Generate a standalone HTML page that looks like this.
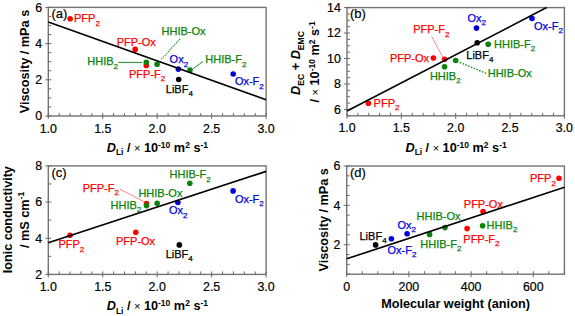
<!DOCTYPE html><html><head><meta charset="utf-8"><style>html,body{margin:0;padding:0;background:#fff;width:575px;height:316px;overflow:hidden}svg{display:block;font-family:"Liberation Sans",sans-serif}.t{font-size:12.4px;fill:#000;stroke:#000;stroke-width:0.2px}.l{font-size:11px;stroke-width:0.25px}.s{font-size:8px}.ti{font-size:12.7px;font-weight:bold;fill:#000}.ts{font-size:9px;font-weight:bold}.tp{font-size:8.5px;font-weight:bold}</style></head><body><svg width="575" height="316" viewBox="0 0 575 316">
<rect x="48.3" y="7.4" width="217.8" height="108.6" fill="none" stroke="#747474" stroke-width="1.4"/>
<path d="M48.3 119V113 M59.19 116V113 M70.08 116V113 M80.97 116V113 M91.86 116V113 M102.75 119V113 M113.64 116V113 M124.53 116V113 M135.42 116V113 M146.31 116V113 M157.2 119V113 M168.09 116V113 M178.98 116V113 M189.87 116V113 M200.76 116V113 M211.65 119V113 M222.54 116V113 M233.43 116V113 M244.32 116V113 M255.21 116V113 M266.1 119V113 M45.3 116H51.3 M48.3 106.95H51.3 M48.3 97.9H51.3 M48.3 88.85H51.3 M45.3 79.8H51.3 M48.3 70.75H51.3 M48.3 61.7H51.3 M48.3 52.65H51.3 M45.3 43.6H51.3 M48.3 34.55H51.3 M48.3 25.5H51.3 M48.3 16.45H51.3 M45.3 7.4H51.3" stroke="#6a6a6a" stroke-width="1" fill="none"/>
<text x="48.3" y="132.6" text-anchor="middle" class="t">1.0</text>
<text x="102.75" y="132.6" text-anchor="middle" class="t">1.5</text>
<text x="157.2" y="132.6" text-anchor="middle" class="t">2.0</text>
<text x="211.65" y="132.6" text-anchor="middle" class="t">2.5</text>
<text x="266.1" y="132.6" text-anchor="middle" class="t">3.0</text>
<text x="42.1" y="120.4" text-anchor="end" class="t">0</text>
<text x="42.1" y="84.2" text-anchor="end" class="t">2</text>
<text x="42.1" y="48" text-anchor="end" class="t">4</text>
<text x="42.1" y="11.8" text-anchor="end" class="t">6</text>
<line x1="118.2" y1="62.4" x2="142" y2="62.4" stroke="#0a820a" stroke-width="0.9"/>
<line x1="161.4" y1="59.2" x2="180.6" y2="38.3" stroke="#0a820a" stroke-width="1.1" stroke-dasharray="1.2,1.2"/>
<line x1="193.3" y1="68.6" x2="203" y2="61.5" stroke="#0a820a" stroke-width="0.9"/>
<text x="51.5" y="18.4" class="t" style="font-size:13px">(a)</text>
<circle cx="70.1" cy="18.7" r="2.8" fill="#ff0000"/>
<text x="74" y="22.3" fill="#ff0000" stroke="#ff0000" class="l">PFP<tspan class="s" dy="3.3">2</tspan></text>
<circle cx="135.2" cy="49.4" r="2.8" fill="#ff0000"/>
<text x="116.7" y="45.6" fill="#ff0000" stroke="#ff0000" class="l">PFP-Ox</text>
<circle cx="146.3" cy="65.4" r="2.8" fill="#ff0000"/>
<text x="129" y="77.8" fill="#ff0000" stroke="#ff0000" class="l">PFP-F<tspan class="s" dy="3.3">2</tspan></text>
<circle cx="146.3" cy="62.3" r="2.8" fill="#0a820a"/>
<text x="87.3" y="65.3" fill="#0a820a" stroke="#0a820a" class="l">HHIB<tspan class="s" dy="3.3">2</tspan></text>
<circle cx="157.1" cy="64.2" r="2.8" fill="#0a820a"/>
<text x="161.5" y="35" fill="#0a820a" stroke="#0a820a" class="l">HHIB-Ox</text>
<circle cx="178.3" cy="69.1" r="2.8" fill="#0000dc"/>
<text x="169.6" y="63.3" fill="#0000dc" stroke="#0000dc" class="l">Ox<tspan class="s" dy="3.3">2</tspan></text>
<circle cx="178.7" cy="79.5" r="2.8" fill="#000000"/>
<text x="165.8" y="92.9" fill="#000000" stroke="#000000" class="l">LiBF<tspan class="s" dy="3.3">4</tspan></text>
<circle cx="190" cy="70.1" r="2.8" fill="#0a820a"/>
<text x="205.3" y="63.3" fill="#0a820a" stroke="#0a820a" class="l">HHIB-F<tspan class="s" dy="3.3">2</tspan></text>
<circle cx="233.2" cy="74" r="2.8" fill="#0000dc"/>
<text x="234.9" y="85.3" fill="#0000dc" stroke="#0000dc" class="l">Ox-F<tspan class="s" dy="3.3">2</tspan></text>
<line x1="48.3" y1="22" x2="266.1" y2="99.7" stroke="#000000" stroke-width="1.65"/>
<text transform="translate(29,61.5) rotate(-90)" text-anchor="middle" class="ti">Viscosity / mPa s</text>
<text x="157.4" y="152" class="ti" text-anchor="middle" font-style="italic">D<tspan class="ts" font-style="normal" dy="3.3" style="font-size:8.4px">Li</tspan><tspan dy="-3.3" font-style="normal"> / </tspan><tspan font-style="normal" font-weight="normal" style="font-size:11px">×</tspan><tspan font-style="normal"> 10</tspan><tspan class="tp" font-style="normal" dy="-4.5">-10</tspan><tspan font-style="normal" dy="4.5"> m</tspan><tspan class="tp" font-style="normal" dy="-4.5">2</tspan><tspan font-style="normal" dy="4.5"> s</tspan><tspan class="tp" font-style="normal" dy="-4.5">-1</tspan></text>
<rect x="347" y="7.6" width="217.4" height="108.2" fill="none" stroke="#747474" stroke-width="1.4"/>
<path d="M347 118.8V112.8 M357.87 115.8V112.8 M368.74 115.8V112.8 M379.61 115.8V112.8 M390.48 115.8V112.8 M401.35 118.8V112.8 M412.22 115.8V112.8 M423.09 115.8V112.8 M433.96 115.8V112.8 M444.83 115.8V112.8 M455.7 118.8V112.8 M466.57 115.8V112.8 M477.44 115.8V112.8 M488.31 115.8V112.8 M499.18 115.8V112.8 M510.05 118.8V112.8 M520.92 115.8V112.8 M531.79 115.8V112.8 M542.66 115.8V112.8 M553.53 115.8V112.8 M564.4 118.8V112.8 M347 115.8H350 M344 109.44H350 M347 103.07H350 M347 96.71H350 M347 90.34H350 M344 83.98H350 M347 77.61H350 M347 71.25H350 M347 64.88H350 M344 58.52H350 M347 52.15H350 M347 45.79H350 M347 39.42H350 M344 33.06H350 M347 26.69H350 M347 20.33H350 M347 13.96H350 M344 7.6H350" stroke="#6a6a6a" stroke-width="1" fill="none"/>
<text x="347" y="132.4" text-anchor="middle" class="t">1.0</text>
<text x="401.35" y="132.4" text-anchor="middle" class="t">1.5</text>
<text x="455.7" y="132.4" text-anchor="middle" class="t">2.0</text>
<text x="510.05" y="132.4" text-anchor="middle" class="t">2.5</text>
<text x="564.4" y="132.4" text-anchor="middle" class="t">3.0</text>
<text x="340.8" y="113.84" text-anchor="end" class="t">6</text>
<text x="340.8" y="88.38" text-anchor="end" class="t">8</text>
<text x="340.8" y="62.92" text-anchor="end" class="t">10</text>
<text x="340.8" y="37.46" text-anchor="end" class="t">12</text>
<text x="340.8" y="12" text-anchor="end" class="t">14</text>
<line x1="431.6" y1="36.5" x2="443" y2="57.5" stroke="#ff5050" stroke-width="0.7"/>
<line x1="459.8" y1="62.4" x2="486.3" y2="73.4" stroke="#0a820a" stroke-width="1.3" stroke-dasharray="1.5,1.5"/>
<text x="350" y="18.4" class="t" style="font-size:13px">(b)</text>
<circle cx="368.4" cy="103.3" r="2.8" fill="#ff0000"/>
<text x="373.6" y="107" fill="#ff0000" stroke="#ff0000" class="l">PFP<tspan class="s" dy="3.3">2</tspan></text>
<circle cx="433.4" cy="58" r="2.8" fill="#ff0000"/>
<text x="429" y="62.3" fill="#ff0000" stroke="#ff0000" class="l" text-anchor="end">PFP-Ox</text>
<circle cx="444.6" cy="59.2" r="2.8" fill="#ff0000"/>
<text x="413.2" y="33.2" fill="#ff0000" stroke="#ff0000" class="l">PFP-F<tspan class="s" dy="3.3">2</tspan></text>
<circle cx="444.6" cy="66.8" r="2.8" fill="#0a820a"/>
<text x="429.9" y="79.5" fill="#0a820a" stroke="#0a820a" class="l">HHIB<tspan class="s" dy="3.3">2</tspan></text>
<circle cx="455.7" cy="60.5" r="2.8" fill="#0a820a"/>
<text x="487.7" y="76.5" fill="#0a820a" stroke="#0a820a" class="l">HHIB-Ox</text>
<circle cx="476.5" cy="28.1" r="2.8" fill="#0000dc"/>
<text x="467.4" y="21.7" fill="#0000dc" stroke="#0000dc" class="l">Ox<tspan class="s" dy="3.3">2</tspan></text>
<circle cx="477.2" cy="42.8" r="2.8" fill="#000000"/>
<text x="466.3" y="58.5" fill="#000000" stroke="#000000" class="l">LiBF<tspan class="s" dy="3.3">4</tspan></text>
<circle cx="488.2" cy="44.3" r="2.8" fill="#0a820a"/>
<text x="494" y="47.6" fill="#0a820a" stroke="#0a820a" class="l">HHIB-F<tspan class="s" dy="3.3">2</tspan></text>
<circle cx="532" cy="18.5" r="2.8" fill="#0000dc"/>
<text x="534" y="29.9" fill="#0000dc" stroke="#0000dc" class="l">Ox-F<tspan class="s" dy="3.3">2</tspan></text>
<line x1="347" y1="111" x2="546.6" y2="7.6" stroke="#000000" stroke-width="1.65"/>
<text x="456.1" y="152" class="ti" text-anchor="middle" font-style="italic">D<tspan class="ts" font-style="normal" dy="3.3" style="font-size:8.4px">Li</tspan><tspan dy="-3.3" font-style="normal"> / </tspan><tspan font-style="normal" font-weight="normal" style="font-size:11px">×</tspan><tspan font-style="normal"> 10</tspan><tspan class="tp" font-style="normal" dy="-4.5">-10</tspan><tspan font-style="normal" dy="4.5"> m</tspan><tspan class="tp" font-style="normal" dy="-4.5">2</tspan><tspan font-style="normal" dy="4.5"> s</tspan><tspan class="tp" font-style="normal" dy="-4.5">-1</tspan></text>
<text transform="translate(300.4,63) rotate(-90)" text-anchor="middle" class="ti"><tspan font-style="italic">D</tspan><tspan class="ts" dy="3.3" style="font-size:8.6px">EC</tspan><tspan dy="-3.3"> + </tspan><tspan font-style="italic">D</tspan><tspan class="ts" dy="3.3" style="font-size:8.6px">EMC</tspan></text>
<text transform="translate(319.4,61.9) rotate(-90)" text-anchor="middle" class="ti">/ <tspan font-weight="normal" style="font-size:11px">×</tspan> 10<tspan class="tp" dy="-4.5">-10</tspan><tspan dy="4.5"> m</tspan><tspan class="tp" dy="-4.5">2</tspan><tspan dy="4.5"> s</tspan><tspan class="tp" dy="-4.5">-1</tspan></text>
<rect x="48.3" y="165.9" width="217.8" height="108.5" fill="none" stroke="#747474" stroke-width="1.4"/>
<path d="M48.3 277.4V271.4 M59.19 274.4V271.4 M70.08 274.4V271.4 M80.97 274.4V271.4 M91.86 274.4V271.4 M102.75 277.4V271.4 M113.64 274.4V271.4 M124.53 274.4V271.4 M135.42 274.4V271.4 M146.31 274.4V271.4 M157.2 277.4V271.4 M168.09 274.4V271.4 M178.98 274.4V271.4 M189.87 274.4V271.4 M200.76 274.4V271.4 M211.65 277.4V271.4 M222.54 274.4V271.4 M233.43 274.4V271.4 M244.32 274.4V271.4 M255.21 274.4V271.4 M266.1 277.4V271.4 M45.3 274.4H51.3 M48.3 256.32H51.3 M45.3 238.23H51.3 M48.3 220.15H51.3 M45.3 202.07H51.3 M48.3 183.98H51.3 M45.3 165.9H51.3" stroke="#6a6a6a" stroke-width="1" fill="none"/>
<text x="48.3" y="291" text-anchor="middle" class="t">1.0</text>
<text x="102.75" y="291" text-anchor="middle" class="t">1.5</text>
<text x="157.2" y="291" text-anchor="middle" class="t">2.0</text>
<text x="211.65" y="291" text-anchor="middle" class="t">2.5</text>
<text x="266.1" y="291" text-anchor="middle" class="t">3.0</text>
<text x="42.1" y="278.8" text-anchor="end" class="t">2</text>
<text x="42.1" y="242.63" text-anchor="end" class="t">4</text>
<text x="42.1" y="206.47" text-anchor="end" class="t">6</text>
<text x="42.1" y="170.3" text-anchor="end" class="t">8</text>
<line x1="119.9" y1="189.1" x2="143.9" y2="201.8" stroke="#ff5050" stroke-width="0.7"/>
<text x="51.5" y="177.3" class="t" style="font-size:13px">(c)</text>
<circle cx="70" cy="235.2" r="2.8" fill="#ff0000"/>
<text x="58.4" y="248.4" fill="#ff0000" stroke="#ff0000" class="l">PFP<tspan class="s" dy="3.3">2</tspan></text>
<circle cx="135.8" cy="232.2" r="2.8" fill="#ff0000"/>
<text x="116" y="244.8" fill="#ff0000" stroke="#ff0000" class="l">PFP-Ox</text>
<circle cx="146.5" cy="203.5" r="2.8" fill="#ff0000"/>
<text x="82.7" y="191.6" fill="#ff0000" stroke="#ff0000" class="l">PFP-F<tspan class="s" dy="3.3">2</tspan></text>
<circle cx="146.5" cy="205.6" r="2.8" fill="#0a820a"/>
<text x="110.5" y="208.6" fill="#0a820a" stroke="#0a820a" class="l">HHIB<tspan class="s" dy="3.3">2</tspan></text>
<circle cx="157.2" cy="203.3" r="2.8" fill="#0a820a"/>
<text x="138.4" y="197" fill="#0a820a" stroke="#0a820a" class="l">HHIB-Ox</text>
<circle cx="177.9" cy="202.5" r="2.8" fill="#0000dc"/>
<text x="169" y="214.4" fill="#0000dc" stroke="#0000dc" class="l">Ox<tspan class="s" dy="3.3">2</tspan></text>
<circle cx="179.3" cy="244.9" r="2.8" fill="#000000"/>
<text x="165.7" y="258" fill="#000000" stroke="#000000" class="l">LiBF<tspan class="s" dy="3.3">4</tspan></text>
<circle cx="189.8" cy="183.3" r="2.8" fill="#0a820a"/>
<text x="169.6" y="178.2" fill="#0a820a" stroke="#0a820a" class="l">HHIB-F<tspan class="s" dy="3.3">2</tspan></text>
<circle cx="233.1" cy="190.9" r="2.8" fill="#0000dc"/>
<text x="234.9" y="202.5" fill="#0000dc" stroke="#0000dc" class="l">Ox-F<tspan class="s" dy="3.3">2</tspan></text>
<line x1="48.3" y1="242.8" x2="266.1" y2="171.4" stroke="#000000" stroke-width="1.65"/>
<text x="157.4" y="310.3" class="ti" text-anchor="middle" font-style="italic">D<tspan class="ts" font-style="normal" dy="3.3" style="font-size:8.4px">Li</tspan><tspan dy="-3.3" font-style="normal"> / </tspan><tspan font-style="normal" font-weight="normal" style="font-size:11px">×</tspan><tspan font-style="normal"> 10</tspan><tspan class="tp" font-style="normal" dy="-4.5">-10</tspan><tspan font-style="normal" dy="4.5"> m</tspan><tspan class="tp" font-style="normal" dy="-4.5">2</tspan><tspan font-style="normal" dy="4.5"> s</tspan><tspan class="tp" font-style="normal" dy="-4.5">-1</tspan></text>
<text transform="translate(12,219.7) rotate(-90)" text-anchor="middle" class="ti" style="font-size:12.6px">Ionic conductivity</text>
<text transform="translate(28.5,219.9) rotate(-90)" text-anchor="middle" class="ti">/ mS cm<tspan class="tp" dy="-4.5">-1</tspan></text>
<rect x="346.7" y="166" width="217.7" height="108.2" fill="none" stroke="#747474" stroke-width="1.4"/>
<path d="M346.7 277.2V271.2 M362.25 274.2V271.2 M377.8 274.2V271.2 M393.35 274.2V271.2 M408.9 277.2V271.2 M424.45 274.2V271.2 M440 274.2V271.2 M455.55 274.2V271.2 M471.1 277.2V271.2 M486.65 274.2V271.2 M502.2 274.2V271.2 M517.75 274.2V271.2 M533.3 277.2V271.2 M548.85 274.2V271.2 M564.4 274.2V271.2 M346.7 274.2H349.7 M346.7 264.36H349.7 M346.7 254.53H349.7 M343.7 244.69H349.7 M346.7 234.85H349.7 M346.7 225.02H349.7 M346.7 215.18H349.7 M343.7 205.35H349.7 M346.7 195.51H349.7 M346.7 185.67H349.7 M346.7 175.84H349.7 M343.7 166H349.7" stroke="#6a6a6a" stroke-width="1" fill="none"/>
<text x="346.7" y="290.8" text-anchor="middle" class="t">0</text>
<text x="408.9" y="290.8" text-anchor="middle" class="t">200</text>
<text x="471.1" y="290.8" text-anchor="middle" class="t">400</text>
<text x="533.3" y="290.8" text-anchor="middle" class="t">600</text>
<text x="340.5" y="249.09" text-anchor="end" class="t">2</text>
<text x="340.5" y="209.75" text-anchor="end" class="t">4</text>
<text x="340.5" y="170.4" text-anchor="end" class="t">6</text>
<text x="350" y="177" class="t" style="font-size:13px">(d)</text>
<circle cx="375.6" cy="244.9" r="2.8" fill="#000000"/>
<text x="359.5" y="239.8" fill="#000000" stroke="#000000" class="l">LiBF<tspan class="s" dy="3.3">4</tspan></text>
<circle cx="391.4" cy="238.8" r="2.8" fill="#0000dc"/>
<text x="387.5" y="254" fill="#0000dc" stroke="#0000dc" class="l">Ox-F<tspan class="s" dy="3.3">2</tspan></text>
<circle cx="407.1" cy="233.7" r="2.8" fill="#0000dc"/>
<text x="397.5" y="229.1" fill="#0000dc" stroke="#0000dc" class="l">Ox<tspan class="s" dy="3.3">2</tspan></text>
<circle cx="429.6" cy="234.4" r="2.8" fill="#0a820a"/>
<text x="420.3" y="247.6" fill="#0a820a" stroke="#0a820a" class="l">HHIB-F<tspan class="s" dy="3.3">2</tspan></text>
<circle cx="445" cy="227.6" r="2.8" fill="#0a820a"/>
<text x="416.5" y="219.7" fill="#0a820a" stroke="#0a820a" class="l">HHIB-Ox</text>
<circle cx="467.1" cy="228.6" r="2.8" fill="#ff0000"/>
<text x="463.3" y="242.5" fill="#ff0000" stroke="#ff0000" class="l">PFP-F<tspan class="s" dy="3.3">2</tspan></text>
<circle cx="483" cy="211.6" r="2.8" fill="#ff0000"/>
<text x="463.8" y="207.8" fill="#ff0000" stroke="#ff0000" class="l">PFP-Ox</text>
<circle cx="482.6" cy="225.8" r="2.8" fill="#0a820a"/>
<text x="486.6" y="229" fill="#0a820a" stroke="#0a820a" class="l">HHIB<tspan class="s" dy="3.3">2</tspan></text>
<circle cx="559" cy="178.2" r="2.8" fill="#ff0000"/>
<text x="530" y="182.3" fill="#ff0000" stroke="#ff0000" class="l">PFP<tspan class="s" dy="3.3">2</tspan></text>
<line x1="346.7" y1="258.8" x2="564.5" y2="187.3" stroke="#000000" stroke-width="1.65"/>
<text x="455.5" y="307.5" class="ti" text-anchor="middle">Molecular weight (anion)</text>
<text transform="translate(327.7,219.8) rotate(-90)" text-anchor="middle" class="ti">Viscosity / mPa s</text>
</svg></body></html>
